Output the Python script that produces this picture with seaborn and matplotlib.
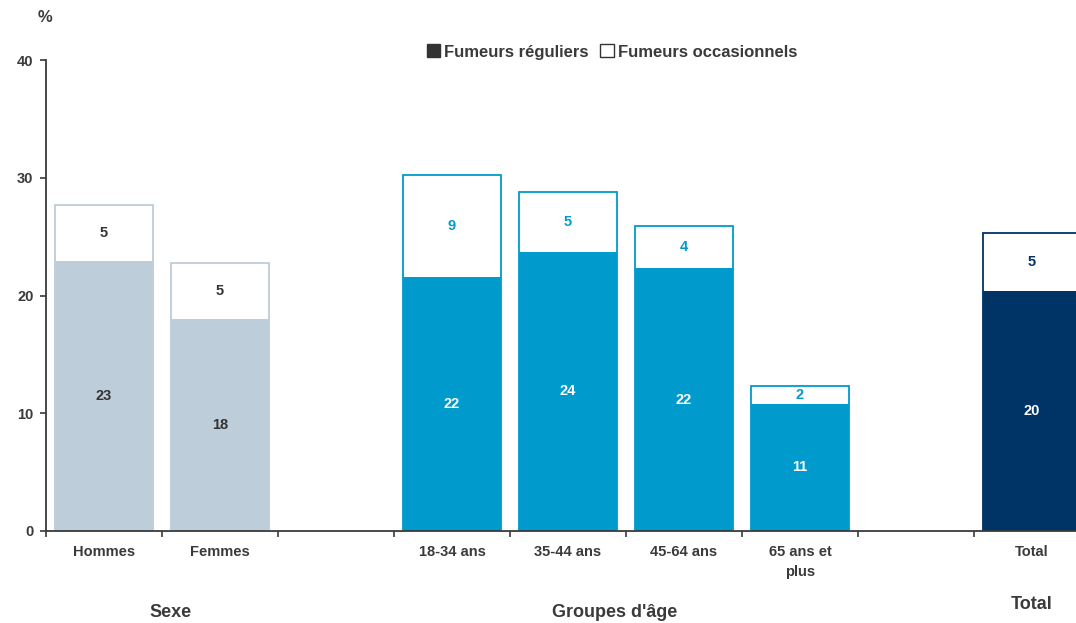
import matplotlib
matplotlib.use("Agg")
import matplotlib.pyplot as plt
from matplotlib.patches import Patch
import seaborn as sns
import pandas as pd

# Smoking prevalence (%) by sex, age group and overall
categories = ["Hommes", "Femmes", "18-34 ans", "35-44 ans", "45-64 ans", "65 ans et\nplus", "Total"]
groups = ["Sexe", "Sexe", "Age", "Age", "Age", "Age", "Total"]
regular = [22.9, 18.0, 21.6, 23.7, 22.3, 10.8, 20.4]
occasional = [4.8, 4.8, 8.6, 5.1, 3.6, 1.5, 4.9]
# axis slots, including the blank spacers between blocks
slot_order = ["Hommes", "Femmes", " ", "18-34 ans", "35-44 ans", "45-64 ans", "65 ans et\nplus", "  ", "Total"]
block_titles = ["Sexe", "Groupes d'âge", "Total"]

fill_colors = {"Sexe": "#bdcdda", "Age": "#009bcc", "Total": "#003366"}
label_in = {"Sexe": "#333333", "Age": "white", "Total": "white"}
label_top = {"Sexe": "#333333", "Age": "#009bcc", "Total": "#003366"}

df = pd.DataFrame({"cat": categories, "group": groups,
                   "regular": regular, "occasional": occasional})
df["total"] = df["regular"] + df["occasional"]

sns.set_theme(style="white")
plt.rcParams["font.family"] = ["Liberation Sans", "DejaVu Sans"]
plt.rcParams["font.weight"] = "bold"
ink = "#3a3a3a"

fig = plt.figure(figsize=(10.76, 6.23), dpi=100)
ax = fig.add_axes([46 / 1076, 92 / 623, 1044 / 1076, 471 / 623])

# full-height outline bars (occasional smokers on top of regular ones)
sns.barplot(data=df, x="cat", y="total", order=slot_order, color="white",
            saturation=1, width=0.84, linewidth=1.3, edgecolor="black", ax=ax,
            legend=False)
pos = {c: i for i, c in enumerate(slot_order)}
for patch in ax.patches:
    cx = patch.get_x() + patch.get_width() / 2
    dists = [abs(cx - pos[c]) for c in df["cat"]]
    row = df.iloc[dists.index(min(dists))]
    patch.set_edgecolor(fill_colors[row["group"]])
    patch.set_facecolor("white")

# regular smokers
sns.barplot(data=df, x="cat", y="regular", order=slot_order, hue="group",
            palette=fill_colors, saturation=1, dodge=False, width=0.84,
            linewidth=0, ax=ax, legend=False)

for _, r in df.iterrows():
    x = pos[r["cat"]]
    ax.text(x, r["regular"] / 2, f"{round(r['regular']):d}", ha="center", va="center",
            fontsize=10.5, fontweight="bold", color=label_in[r["group"]])
    ax.text(x, r["regular"] + r["occasional"] / 2, f"{round(r['occasional']):d}",
            ha="center", va="center", fontsize=10.5, fontweight="bold",
            color=label_top[r["group"]])

ax.set_xlim(-0.5, 8.5)
ax.set_ylim(0, 40)
ax.set_yticks([0, 10, 20, 30, 40])
ax.set_xticks(range(len(slot_order)))
ax.set_xticklabels([s.strip() for s in slot_order])
ax.set_xticks([i - 0.5 for i in range(len(slot_order) + 1)], minor=True)
ax.tick_params(axis="x", which="major", length=0, pad=10, labelsize=10.5, labelcolor=ink)
ax.tick_params(axis="x", which="minor", length=4, width=1.2, color=ink, direction="out", bottom=True)
ax.tick_params(axis="y", length=4, width=1.2, color=ink, direction="out", left=True,
               pad=5, labelsize=10.5, labelcolor=ink)
for lab in ax.get_xticklabels() + ax.get_yticklabels():
    lab.set_fontweight("bold")
for lab in ax.get_xticklabels():
    lab.set_linespacing(1.6)
ax.set_xlabel("")
ax.set_ylabel("")
for side in ["top", "right"]:
    ax.spines[side].set_visible(False)
for side in ["left", "bottom"]:
    ax.spines[side].set_color(ink)
    ax.spines[side].set_linewidth(1.3)

fig.text(45 / 1076, 1 - 17 / 623, "%", ha="center", va="center", fontsize=12,
         fontweight="bold", color=ink)

# block titles under the category labels
xt = ax.get_xaxis_transform()
ax.text(0.57, -0.172, block_titles[0], transform=xt, ha="center", va="center",
        fontsize=13, fontweight="bold", color=ink)
ax.text(4.4, -0.172, block_titles[1], transform=xt, ha="center", va="center",
        fontsize=13, fontweight="bold", color=ink)
ax.text(8, -0.155, block_titles[2], transform=xt, ha="center", va="center",
        fontsize=13, fontweight="bold", color=ink)

handles = [Patch(facecolor="#333333", edgecolor="#333333", label="Fumeurs réguliers"),
           Patch(facecolor="white", edgecolor="#333333", label="Fumeurs occasionnels")]
leg = ax.legend(handles=handles, loc="center", bbox_to_anchor=(612 / 1076, 1 - 52 / 623),
                bbox_transform=fig.transFigure, ncol=2, frameon=False, handlelength=0.8,
                handleheight=0.8, handletextpad=0.25, columnspacing=0.7,
                prop={"weight": "bold", "size": 12})
for t in leg.get_texts():
    t.set_color(ink)

fig.savefig("out.png", dpi=100)
